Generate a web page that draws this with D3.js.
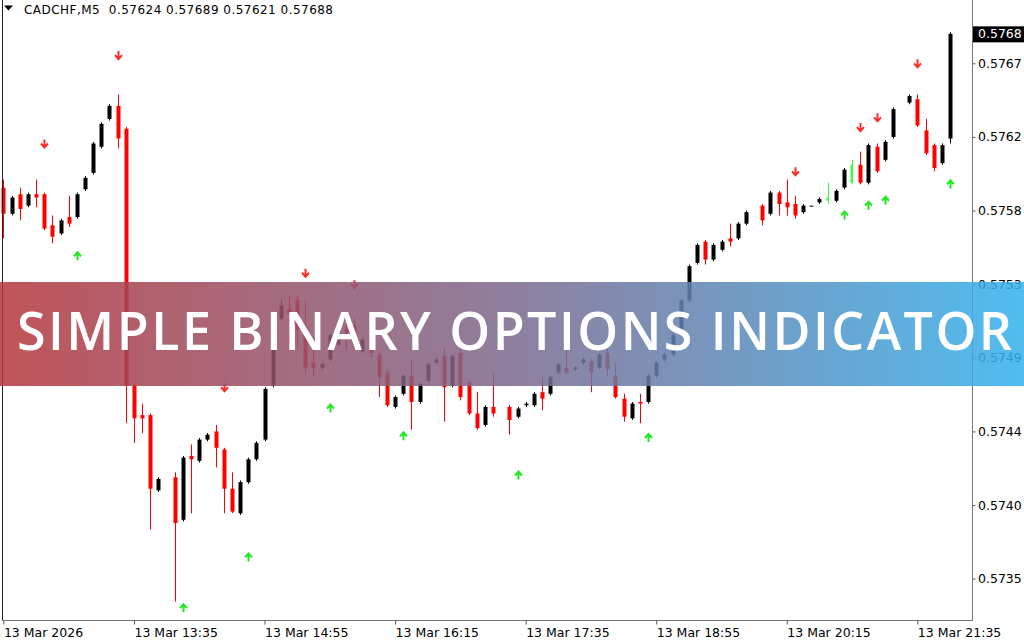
<!DOCTYPE html>
<html><head><meta charset="utf-8">
<script src="https://cdn.jsdelivr.net/npm/d3@7"></script>
<style>html,body{margin:0;padding:0;background:#fff;overflow:hidden}svg{display:block}</style>
</head><body>
<svg id="c" width="1024" height="640"></svg>
<script>
const symbol = "CADCHF,M5";
const header = [0.57624, 0.57689, 0.57621, 0.57688];
const open = [.57594,.57578,.57590,.57583,.57590,.57590,.57571,.57566,.57576,.57576,.57593,.57603,.57619,.57636,.57644,.57630,.57473,.57455,.57455,.57409,null,.57417,.57391,.57430,.57427,.57440,.57445,.57434,.57410,.57395,.57414,.57428,.57440,.57473,.57514,.57520,.57525,.57509,.57487,.57484,.57489,.57498,.57508,.57510,.57494,.57502,.57492,.57481,.57460,.57468,.57479,.57463,.57476,.57487,.57491,.57473,.57493,.57475,.57456,.57449,.57460,null,.57460,.57454,.57461,.57461,.57469,.57468,.57481,.57484,.57483,.57487,.57488,.57484,.57493,.57479,.57465,.57453,.57463,.57463,.57479,.57489,.57492,.57504,.57525,.57548,.57561,.57550,.57556,.57563,.57563,.57572,null,.57583,.57578,.57591,.57585,.57584,.57579,.57583,.57585,.57586,.57586,.57594,.57597,.57608,.57597,.57619,.57611,.57625,null,.57646,.57648,.57629,.57620,.57609,.57624];
const high = [.57599,.57589,.57594,.57591,.57599,.57591,.57577,.57575,.57589,.57591,.57601,.57622,.57634,.57645,.57651,.57631,.57474,.57462,.57456,.57417,null,.57420,.57430,.57437,.57441,.57444,.57449,.57435,.57420,.57415,.57429,.57439,.57472,.57518,.57525,.57528,.57528,.57525,.57495,.57487,.57505,.57511,.57518,.57514,.57502,.57505,.57494,.57483,.57467,.57480,.57489,.57475,.57487,.57490,.57496,.57492,.57496,.57476,.57469,.57461,.57481,null,.57461,.57460,.57463,.57469,.57478,.57479,.57487,.57495,.57485,.57490,.57490,.57493,.57498,.57487,.57468,.57463,.57468,.57480,.57488,.57493,.57505,.57526,.57547,.57560,.57562,.57560,.57562,.57572,.57573,.57580,null,.57584,.57592,.57592,.57599,.57589,.57584,.57583,.57588,.57597,.57593,.57606,.57611,.57616,.57621,.57621,.57623,.57643,null,.57651,.57651,.57636,.57621,.57621,.57689];
const low = [.57563,.57577,.57574,.57582,.57582,.57568,.57560,.57565,.57570,.57575,.57592,.57602,.57618,.57635,.57618,.57450,.57438,.57444,.57385,.57408,null,.57341,.57390,.57395,.57426,.57439,.57423,.57395,.57395,.57394,.57413,.57427,.57439,.57472,.57513,.57498,.57496,.57481,.57479,.57483,.57488,.57497,.57495,.57495,.57493,.57490,.57466,.57460,.57459,.57467,.57446,.57462,.57475,.57486,.57451,.57472,.57464,.57455,.57446,.57448,.57454,null,.57443,.57453,.57460,.57460,.57458,.57467,.57480,.57480,.57482,.57486,.57469,.57483,.57479,.57465,.57451,.57452,.57450,.57462,.57478,.57488,.57491,.57503,.57524,.57547,.57547,.57549,.57555,.57558,.57562,.57571,null,.57571,.57577,.57577,.57577,.57575,.57578,.57583,.57584,.57584,.57585,.57593,.57596,.57596,.57596,.57603,.57610,.57624,null,.57645,.57631,.57614,.57604,.57608,.57621];
const close = [.57578,.57588,.57581,.57590,.57588,.57569,.57564,.57574,.57572,.57590,.57600,.57621,.57633,.57644,.57624,.57473,.57453,.57453,.57410,.57416,null,.57389,.57429,.57428,.57440,.57443,.57435,.57410,.57396,.57414,.57428,.57438,.57471,.57517,.57522,.57517,.57507,.57484,.57484,.57486,.57504,.57510,.57505,.57498,.57501,.57493,.57478,.57461,.57466,.57479,.57463,.57474,.57486,.57489,.57472,.57491,.57466,.57456,.57447,.57460,.57456,null,.57452,.57459,.57462,.57468,.57465,.57478,.57486,.57481,.57484,.57489,.57481,.57492,.57483,.57466,.57454,.57462,.57462,.57479,.57487,.57492,.57504,.57525,.57546,.57559,.57550,.57559,.57561,.57561,.57572,.57579,null,.57574,.57591,.57584,.57582,.57577,.57583,.57583,.57587,.57588,.57592,.57605,.57608,.57597,.57620,.57604,.57622,.57642,null,.57650,.57632,.57615,.57606,.57620,.57688];
const greenBars = [101, 104];
const sellIdx = [5, 14, 27, 37, 43, 97, 105, 107, 112];
const sellPrice = [.57621, .57675, .57472, .57542, .57535, .57604, .57631, .57637, .57670];
const buyIdx = [9, 22, 30, 40, 49, 63, 79, 103, 106, 108, 116];
const buyPrice = [.57552, .57337, .57368, .57459, .57442, .57418, .57441, .57577, .57583, .57586, .57596];
const priceTicks = [0.57670, 0.57625, 0.57580, 0.57535, 0.57490, 0.57445, 0.57400, 0.57355];
const timeTickIdx = [0, 16, 32, 48, 64, 80, 96, 112];
const timeTickLabels = ["13 Mar 2026", "13 Mar 13:35", "13 Mar 14:55", "13 Mar 16:15", "13 Mar 17:35", "13 Mar 18:55", "13 Mar 20:15", "13 Mar 21:35"];
const bannerText = "SIMPLE BINARY OPTIONS INDICATOR";

const svg = d3.select("#c");
const x = d3.scaleLinear().domain([0, 116]).range([3.4, 950]);
const y = d3.scaleLinear().domain([0.57355, 0.57670]).range([578.7, 63.3]);
const font = "'DejaVu Sans', Tahoma, sans-serif";
const fmt4 = v => (Math.floor(v * 1e4 + 1e-6) / 1e4).toFixed(4);

const bars = open.map((o, i) => ({i, o, h: high[i], l: low[i], c: close[i]})).filter(d => d.o !== null);
const colorOf = d => greenBars.includes(d.i) ? "#3cff3c" : (d.c >= d.o ? "#000" : "#ff0000");

const g = svg.append("g");
g.selectAll("line.wick").data(bars).join("line")
  .attr("x1", d => Math.round(x(d.i)) + 0.5).attr("x2", d => Math.round(x(d.i)) + 0.5)
  .attr("y1", d => y(d.h)).attr("y2", d => y(d.l))
  .attr("stroke", colorOf).attr("stroke-width", 1);
g.selectAll("rect.body").data(bars).join("rect")
  .attr("x", d => Math.round(x(d.i)) - 1.5)
  .attr("width", d => greenBars.includes(d.i) ? 2 : 4)
  .attr("y", d => y(Math.max(d.o, d.c)))
  .attr("height", d => Math.max(1, y(Math.min(d.o, d.c)) - y(Math.max(d.o, d.c))))
  .attr("fill", colorOf);

// arrows
const sells = sellIdx.map((v, k) => ({i: v, p: sellPrice[k]}));
const buys = buyIdx.map((v, k) => ({i: v, p: buyPrice[k]}));
g.selectAll("path.sell").data(sells).join("path")
  .attr("transform", d => `translate(${Math.round(x(d.i)) + 0.5},${y(d.p)})`)
  .attr("d", "M0,-4V3.5M-3.5,0L0,4L3.5,0")
  .attr("fill", "none").attr("stroke", "#ff2a2a").attr("stroke-width", 2);
g.selectAll("path.buy").data(buys).join("path")
  .attr("transform", d => `translate(${Math.round(x(d.i)) + 0.5},${y(d.p)})`)
  .attr("d", "M0,4V-3.5M-3.5,0L0,-4L3.5,0")
  .attr("fill", "none").attr("stroke", "#1ee81e").attr("stroke-width", 2);

// frame
svg.append("line").attr("x1", 2.5).attr("x2", 2.5).attr("y1", 0).attr("y2", 620).attr("stroke", "#222");
svg.append("line").attr("x1", 2).attr("x2", 972).attr("y1", 620.5).attr("y2", 620.5).attr("stroke", "#777");

// right axis
const ya = svg.append("g").attr("transform", "translate(972.5,0)")
  .call(d3.axisRight(y).tickValues(priceTicks).tickFormat(fmt4).tickSize(3).tickSizeOuter(0));
ya.select(".domain").remove();
ya.selectAll(".tick line").attr("stroke", "#555");
ya.selectAll("text").attr("x", 5.5).attr("font-family", font).attr("font-size", 12.5).attr("fill", "#000");
svg.append("line").attr("x1", 972.5).attr("x2", 972.5).attr("y1", 0).attr("y2", 621).attr("stroke", "#777");

// bottom axis
const xa = svg.append("g").attr("transform", "translate(0,620.5)")
  .call(d3.axisBottom(x).tickValues(timeTickIdx).tickFormat((d, k) => timeTickLabels[k]).tickSize(4).tickSizeOuter(0));
xa.select(".domain").remove();
xa.selectAll(".tick line").attr("stroke", "#555");
xa.selectAll("text").attr("text-anchor", "start").attr("y", 8).attr("font-family", font).attr("font-size", 12.5).attr("fill", "#000");

// current price label
const last = close[close.length - 1];
const cy = y(last);
svg.append("rect").attr("x", 973).attr("y", cy - 7.5).attr("width", 51).attr("height", 16).attr("fill", "#000");
svg.append("text").attr("x", 978).attr("y", cy + 4.5).attr("font-family", font).attr("font-size", 12.5).attr("fill", "#fff").text(fmt4(last));

// header
svg.append("path").attr("d", "M4,5.5L13,5.5L8.5,10.5Z").attr("fill", "#000");
svg.append("text").attr("x", 24).attr("y", 14).attr("font-family", font).attr("font-size", 12)
  .attr("textLength", 309).attr("lengthAdjust", "spacing").attr("fill", "#000")
  .attr("xml:space", "preserve")
  .text(symbol + "  " + header.map(d3.format(".5f")).join(" "));

// banner
const defs = svg.append("defs");
const grad = defs.append("linearGradient").attr("id", "bg").attr("x1", "0").attr("x2", "1").attr("y1", "0").attr("y2", "0");
grad.append("stop").attr("offset", "0").attr("stop-color", "rgb(182,56,62)");
grad.append("stop").attr("offset", "0.5").attr("stop-color", "rgb(124,106,142)");
grad.append("stop").attr("offset", "1").attr("stop-color", "rgb(52,178,238)");
svg.append("rect").attr("x", 0).attr("y", 282).attr("width", 1024).attr("height", 104)
  .attr("fill", "url(#bg)").attr("opacity", 0.86);
svg.append("text").attr("x", 17).attr("y", 350).attr("font-family", "'Open Sans', Lato, sans-serif")
  .attr("font-weight", 600).attr("font-size", 52).attr("fill", "#fff")
  .attr("textLength", 995).attr("lengthAdjust", "spacing").text(bannerText);
</script>
</body></html>
